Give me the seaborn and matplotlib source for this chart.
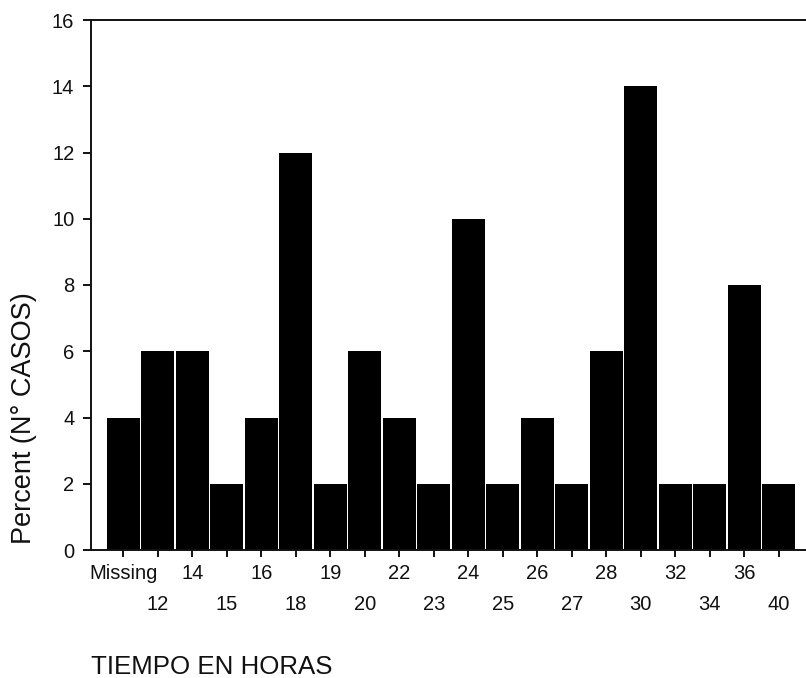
import matplotlib
matplotlib.use("Agg")
import matplotlib.pyplot as plt
import seaborn as sns
import pandas as pd

categories = ["Missing", "12", "14", "15", "16", "18", "19", "20", "22", "23",
              "24", "25", "26", "27", "28", "30", "32", "34", "36", "40"]
percent = [4, 6, 6, 2, 4, 12, 2, 6, 4, 2, 10, 2, 4, 2, 6, 14, 2, 2, 8, 2]
y_ticks = [0, 2, 4, 6, 8, 10, 12, 14, 16]

df = pd.DataFrame({"tiempo": categories, "percent": percent})

sns.set_style("ticks")
plt.rcParams["font.family"] = ["Liberation Sans", "DejaVu Sans"]

fig = plt.figure(figsize=(8.06, 6.78), dpi=100)
ax = fig.add_axes([91 / 806, 128 / 678, 1 - 91 / 806, (550 - 20) / 678])

sns.barplot(data=df, x="tiempo", y="percent", order=categories, color="black",
            saturation=1, width=0.945, edgecolor="none", linewidth=0, ax=ax)

ax.set_xlim(-0.936, 19.79)
ax.set_ylim(0, 16)
ax.set_yticks(y_ticks)
ax.set_yticklabels([str(v) for v in y_ticks])

n = len(categories)
major_pos = list(range(0, n, 2))
minor_pos = list(range(1, n, 2))
ax.set_xticks(major_pos, [categories[i] for i in major_pos])
ax.set_xticks(minor_pos, [categories[i] for i in minor_pos], minor=True)

for side in ["left", "bottom", "top"]:
    ax.spines[side].set_linewidth(1.4)
    ax.spines[side].set_color("#111111")
ax.spines["right"].set_visible(False)

ax.tick_params(axis="y", which="major", length=6, width=1.4, pad=6,
               labelsize=14.5, colors="#111111")
ax.tick_params(axis="x", which="major", length=5, width=1.4, pad=5,
               labelsize=14.5, colors="#111111")
ax.tick_params(axis="x", which="minor", length=5, width=1.4, pad=27.5,
               labelsize=14.5, colors="#111111")

ax.set_ylabel("Percent (N° CASOS)", fontsize=19.5, color="#111111")
ax.yaxis.set_label_coords(-0.075, 0.249)
ax.set_xlabel("TIEMPO EN HORAS", fontsize=18.6, color="#111111", loc="left")
ax.xaxis.set_label_coords(0.0, -0.198)

fig.savefig("out.png", dpi=100)
